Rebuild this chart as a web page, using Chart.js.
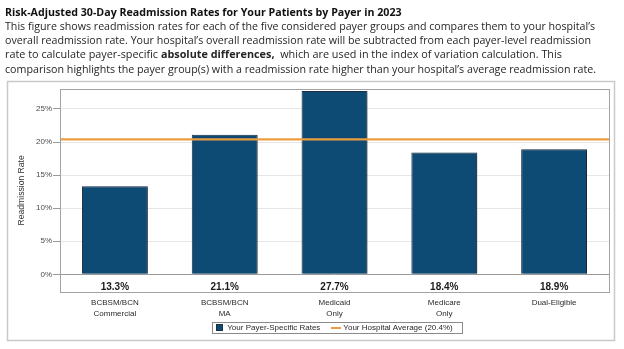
<!DOCTYPE html>
<html>
<head>
<meta charset="utf-8">
<script src="https://cdn.jsdelivr.net/npm/chart.js@4/dist/chart.umd.min.js"></script>
<style>
  html, body { margin: 0; padding: 0; background: #fff; }
  body { width: 624px; height: 349px; position: relative; overflow: hidden; }
  .ln { position: absolute; left: 5px; white-space: nowrap; font-family: "Open Sans", sans-serif; color: #262626; line-height: 14px; height: 14px; }
  .ttl { font-weight: bold; color: #111; }
  #wrap { position: absolute; left: 0; top: 0; width: 624px; height: 349px; }
</style>
</head>
<body>
<div id="wrap"><canvas id="c" width="624" height="349"></canvas></div>
<div class="ln ttl" data-w="397" style="top:5px">Risk-Adjusted 30-Day Readmission Rates for Your Patients by Payer in 2023</div>
<div class="ln" data-w="591" style="top:18.5px">This figure shows readmission rates for each of the five considered payer groups and compares them to your hospital’s</div>
<div class="ln" data-w="587" style="top:33px">overall readmission rate. Your hospital’s overall readmission rate will be subtracted from each payer-level readmission</div>
<div class="ln" data-w="557" style="top:47px">rate to calculate payer-specific <b>absolute differences,</b>&nbsp; which are used in the index of variation calculation. This</div>
<div class="ln" data-w="592" style="top:61.5px">comparison highlights the payer group(s) with a readmission rate higher than your hospital’s average readmission rate.</div>
<script>
// ---- data ----
const categories = [['BCBSM/BCN', 'Commercial'], ['BCBSM/BCN', 'MA'], ['Medicaid', 'Only'], ['Medicare', 'Only'], 'Dual-Eligible'];
const payerRates = [13.3, 21.1, 27.7, 18.4, 18.9];
const hospitalAverage = 20.4;
const yTickValues = [0, 5, 10, 15, 20, 25];
const seriesNames = ['Your Payer-Specific Rates', 'Your Hospital Average (20.4%)'];
const yAxisTitle = 'Readmission Rate';

// ---- fit header text widths ----
document.querySelectorAll('.ln').forEach(el => {
  el.style.fontSize = '12px';
  const w = el.getBoundingClientRect().width;
  const target = parseFloat(el.dataset.w);
  el.style.fontSize = (12 * target / w).toFixed(3) + 'px';
});

const BAR = '#0d4a74';
const BAR_BORDER = '#1c3044';
const AVG = '#eb9d3f';
const LEGEND_PAD = 12;

function makeSquare() {
  const c = document.createElement('canvas'); c.width = 7; c.height = 7;
  const x = c.getContext('2d');
  x.fillStyle = BAR_BORDER; x.fillRect(0, 0, 7, 7);
  x.fillStyle = BAR; x.fillRect(1, 1, 5, 5);
  return c;
}
function makeLine() {
  const c = document.createElement('canvas'); c.width = 10; c.height = 2;
  const x = c.getContext('2d');
  x.fillStyle = AVG; x.fillRect(0, 0, 10, 2);
  return c;
}
const legendSquare = makeSquare();
const legendLine = makeLine();

const decor = {
  id: 'decor',
  beforeDraw(chart) {
    const ctx = chart.ctx;
    ctx.save();
    ctx.strokeStyle = '#c9c9c9';
    ctx.lineWidth = 1.5;
    ctx.strokeRect(7.5, 81.5, 607, 259);
    ctx.restore();
  },
  afterUpdate(chart) {
    const lg = chart.legend;
    if (lg) {
      const h = lg.bottom - lg.top;
      lg.left = chart.chartArea.left;
      lg.top = 327.5 - LEGEND_PAD - 4;
      lg.bottom = lg.top + h;
      lg.adjustHitBoxes();
    }
  },
  beforeDatasetDraw(chart, args) {
    if (args.index === 0) {
      const ctx = chart.ctx;
      ctx.save();
      ctx.shadowColor = 'rgba(0,0,0,0.35)';
      ctx.shadowOffsetX = 1.5;
      ctx.shadowOffsetY = 1;
      ctx.shadowBlur = 2;
    }
  },
  afterDatasetDraw(chart, args) {
    if (args.index === 0) chart.ctx.restore();
  },
  afterDatasetsDraw(chart) {
    const ctx = chart.ctx;
    const a = chart.chartArea;
    ctx.save();
    ctx.strokeStyle = '#a3a3a3';
    ctx.lineWidth = 1;
    ctx.strokeRect(Math.round(a.left) + 0.5, Math.round(a.top) + 0.5, Math.round(a.right - a.left), Math.round(a.bottom - a.top));
    // value labels
    const meta = chart.getDatasetMeta(0);
    const y0 = chart.scales.y.getPixelForValue(0);
    ctx.fillStyle = '#1a1a1a';
    ctx.font = 'bold 10px "Liberation Sans", Arial, sans-serif';
    ctx.textAlign = 'center';
    ctx.textBaseline = 'middle';
    meta.data.forEach((bar, i) => {
      ctx.fillText(payerRates[i].toFixed(1) + '%', bar.x, y0 + 13.4);
    });
    ctx.restore();
  },
  afterDraw(chart) {
    const lg = chart.legend;
    if (!lg || !lg.legendHitBoxes || !lg.legendHitBoxes.length) return;
    const hb = lg.legendHitBoxes;
    const l = hb[0].left - 4;
    const last = hb[hb.length - 1];
    const r = last.left + last.width + 10;
    const t = 322;
    const ctx = chart.ctx;
    ctx.save();
    ctx.strokeStyle = '#8a8a8a';
    ctx.lineWidth = 1;
    ctx.strokeRect(Math.round(l) + 0.5, t + 0.5, Math.round(r - l), 11);
    ctx.restore();
  }
};

new Chart(document.getElementById('c'), {
  type: 'bar',
  data: {
    labels: categories,
    datasets: [
      {
        type: 'bar',
        label: seriesNames[0],
        data: payerRates,
        backgroundColor: BAR,
        borderColor: BAR_BORDER,
        borderWidth: 1,
        barPercentage: 0.6,
        categoryPercentage: 1,
        grouped: false,
        order: 1,
        xAxisID: 'x',
        yAxisID: 'y'
      },
      {
        type: 'line',
        label: seriesNames[1],
        data: [{ x: 0, y: hospitalAverage }, { x: 1, y: hospitalAverage }],
        borderColor: AVG,
        backgroundColor: AVG,
        borderWidth: 2.2,
        pointRadius: 0,
        order: 0,
        xAxisID: 'x2',
        yAxisID: 'y'
      }
    ]
  },
  options: {
    responsive: false,
    animation: false,
    events: [],
    layout: { padding: { left: 0, top: 89, right: 15, bottom: 0 } },
    scales: {
      x: {
        type: 'category',
        position: 'bottom',
        offset: true,
        grid: { display: false, drawTicks: false, offset: true },
        border: { display: false },
        ticks: {
          padding: 5.5,
          maxRotation: 0,
          autoSkip: false,
          color: '#2a2a2a',
          font: { family: '"Liberation Sans", Arial, sans-serif', size: 8, lineHeight: 1.375 }
        },
        afterFit(s) { s.height = 349 - 291.7 - (LEGEND_PAD + 8 + 10); }
      },
      x2: {
        type: 'linear',
        position: 'bottom',
        min: 0, max: 1,
        offset: false,
        display: false
      },
      y: {
        type: 'linear',
        min: -2.63,
        max: 28.02,
        afterBuildTicks(s) { s.ticks = yTickValues.map(v => ({ value: v })); },
        afterFit(s) { s.width = 60; },
        border: { display: false },
        grid: {
          color: c => (c.tick && c.tick.value === 0) ? '#9a9a9a' : '#e6e6e6',
          tickColor: '#9a9a9a',
          tickLength: 7,
          lineWidth: 1
        },
        ticks: {
          padding: 1,
          color: '#4a4a4a',
          font: { family: '"Liberation Sans", Arial, sans-serif', size: 8 },
          callback: v => v + '%'
        },
        title: {
          display: true,
          text: yAxisTitle,
          color: '#333',
          font: { family: '"Liberation Sans", Arial, sans-serif', size: 8.6 },
          padding: { top: 16, bottom: 0 }
        }
      }
    },
    plugins: {
      legend: {
        display: true,
        position: 'bottom',
        labels: {
          usePointStyle: true,
          boxWidth: 7,
          boxHeight: 7,
          padding: LEGEND_PAD,
          color: '#2a2a2a',
          font: { family: '"Liberation Sans", Arial, sans-serif', size: 8 },
          generateLabels: chart => chart.data.datasets.map((ds, i) => ({
            text: ds.label,
            pointStyle: i === 0 ? legendSquare : legendLine,
            fillStyle: ds.backgroundColor,
            strokeStyle: ds.borderColor,
            lineWidth: 0,
            hidden: false,
            datasetIndex: i,
            fontColor: '#2a2a2a'
          }))
        }
      },
      tooltip: { enabled: false }
    }
  },
  plugins: [decor]
});
</script>
</body>
</html>
